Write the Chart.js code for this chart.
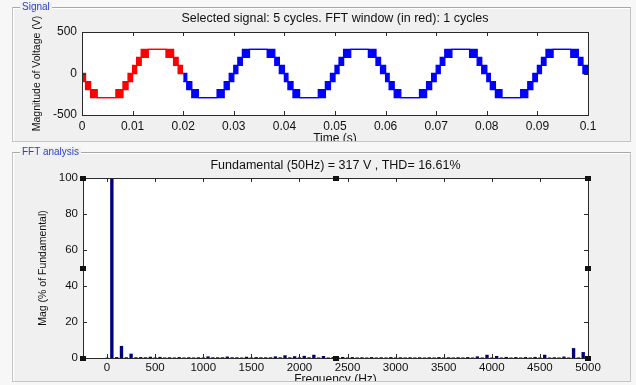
<!DOCTYPE html>
<html>
<head>
<meta charset="utf-8">
<script src="https://cdn.jsdelivr.net/npm/chart.js@4.4.1/dist/chart.umd.min.js"></script>
<style>
html, body { margin: 0; padding: 0; }
body { width: 636px; height: 385px; overflow: hidden; background: #f7f7f7; position: relative; font-family: "Liberation Sans", Arial, sans-serif; }
.group { position: absolute; left: 12px; width: 619px; box-sizing: border-box; border: 1px solid #c4c4c4; border-top-color: #a8a8a8; background: #f0f0f0; box-shadow: inset 1px 1px 0 #ffffff; }
#sigGroup { top: 7px; height: 135px; }
#fftGroup { top: 152px; height: 230px; }
.clip { position: absolute; left: 0; width: 636px; overflow: hidden; }
#sigClip { top: 0; height: 141px; }
#fftClip { top: 142px; height: 239px; }
.clip canvas { position: absolute; left: 0; }
.groupLabel { position: absolute; left: 20px; font-size: 10px; line-height: 10px; color: #2c3fcc; background: #f0f0f0; padding: 0 2px; }
</style>
</head>
<body>
<div class="group" id="sigGroup"></div>
<div class="group" id="fftGroup"></div>
<div class="clip" id="sigClip"><canvas id="signalChart" width="636" height="150" style="top:0"></canvas></div>
<div class="clip" id="fftClip"><canvas id="fftChart" width="636" height="240" style="top:8px"></canvas></div>
<div class="groupLabel" style="top:2px">Signal</div>
<div class="groupLabel" style="top:147px">FFT analysis</div>

<script>
// Signal data (one cycle of the staircase, repeated every 20 ms)

const cycleStarts = [0, 0.02, 0.04, 0.06, 0.08];
const redCycles = [0];
const blueCycles = [1, 2, 3, 4];

// start time of each step inside a cycle (last one closes the cycle)
const stepTimes = [0, 0.0007, 0.0017, 0.0030, 0.0067, 0.0081, 0.0091, 0.0100, 0.0108, 0.0117, 0.0131, 0.0166, 0.0181, 0.0190, 0.0200];
// lower and upper level of each step (equal when flat, different when switching)
const stepLow  = [-97, -194, -291, -291, -291, -194, -97, 0, 97, 194, 291, 194, 97, 0];
const stepHigh = [0, -97, -194, -291, -194, -97, 0, 97, 194, 291, 291, 291, 194, 97];

const timeTicks = [0, 0.01, 0.02, 0.03, 0.04, 0.05, 0.06, 0.07, 0.08, 0.09, 0.1];
const voltTicks = [-500, 0, 500];

// FFT data: harmonic frequency (Hz) and magnitude (% of fundamental)

const harmonicFreqs = [
	0, 50, 100, 150, 200, 250, 300, 350, 400, 450, 500, 550, 600, 650, 700, 750, 800, 850, 900, 950,
	1000, 1050, 1100, 1150, 1200, 1250, 1300, 1350, 1400, 1450, 1500, 1550, 1600, 1650, 1700, 1750, 1800, 1850, 1900, 1950,
	2000, 2050, 2100, 2150, 2200, 2250, 2300, 2350, 2400, 2450, 2500, 2550, 2600, 2650, 2700, 2750, 2800, 2850, 2900, 2950,
	3000, 3050, 3100, 3150, 3200, 3250, 3300, 3350, 3400, 3450, 3500, 3550, 3600, 3650, 3700, 3750, 3800, 3850, 3900, 3950,
	4000, 4050, 4100, 4150, 4200, 4250, 4300, 4350, 4400, 4450, 4500, 4550, 4600, 4650, 4700, 4750, 4800, 4850, 4900, 4950,
	5000
];
const harmonicMags = [
	0.2, 100, 0.5, 6.7, 0.4, 2.4, 0.4, 0.5, 0.4, 0.7, 0.3, 0.6, 0.3, 0.4, 0.3, 0.5, 0.3, 0.4, 0.3, 0.4,
	0.3, 0.9, 0.4, 0.4, 0.4, 0.8, 0.4, 0.4, 0.3, 0.7, 0.3, 0.5, 0.4, 0.4, 0.4, 0.9, 0.4, 1.5, 0.4, 1.0,
	0.4, 1.2, 0.4, 1.8, 0.3, 1.1, 0.3, 0.5, 0.3, 0.6, 0.3, 0.5, 0.3, 0.4, 0.3, 0.5, 0.3, 0.4, 0.3, 0.5,
	0.3, 0.4, 0.3, 0.4, 0.3, 0.4, 0.3, 0.4, 0.3, 0.5, 0.3, 0.4, 0.3, 0.4, 0.3, 0.5, 0.3, 0.9, 0.3, 1.8,
	0.3, 1.1, 0.3, 0.6, 0.3, 0.5, 0.3, 0.5, 0.3, 0.6, 0.3, 1.8, 0.3, 0.4, 0.3, 0.8, 0.3, 5.5, 0.3, 3.3,
	0.3
];
const freqTicks = [0, 500, 1000, 1500, 2000, 2500, 3000, 3500, 4000, 4500, 5000];
const magTicks = [0, 20, 40, 60, 80, 100];


const FONT = '"Liberation Sans", Arial, sans-serif';

// turn the step table into an envelope line for the given cycles
function envelope(cycles, levels){
	let pts = [];
	cycles.forEach(c => {
		for (let i = 0; i < levels.length; i++) {
			pts.push({ x: cycleStarts[c] + stepTimes[i], y: levels[i] });
			pts.push({ x: cycleStarts[c] + stepTimes[i + 1], y: levels[i] });
		}
	});
	return pts;
}

// white plot area, box frame, inward tick marks and selection handles (MATLAB look)
const matlabAxes = {
	id: 'matlabAxes',
	beforeDatasetsDraw(chart){
		const a = chart.chartArea, ctx = chart.ctx;
		ctx.save();
		ctx.fillStyle = '#ffffff';
		ctx.fillRect(a.left, a.top, a.right - a.left, a.bottom - a.top);
		ctx.restore();
	},
	afterDatasetsDraw(chart, args, opts){
		const a = chart.chartArea, ctx = chart.ctx;
		const x = chart.scales.x, y = chart.scales.y;
		const len = 4;
		ctx.save();
		ctx.strokeStyle = '#2a2a2a';
		ctx.lineWidth = 1;
		ctx.beginPath();
		x.ticks.forEach(t => {
			const px = Math.round(x.getPixelForValue(t.value)) + 0.5;
			ctx.moveTo(px, a.bottom); ctx.lineTo(px, a.bottom - len);
			ctx.moveTo(px, a.top); ctx.lineTo(px, a.top + len);
		});
		y.ticks.forEach(t => {
			const py = Math.round(y.getPixelForValue(t.value)) + 0.5;
			ctx.moveTo(a.left, py); ctx.lineTo(a.left + len, py);
			ctx.moveTo(a.right, py); ctx.lineTo(a.right - len, py);
		});
		ctx.stroke();
		ctx.strokeRect(Math.round(a.left) + 0.5, Math.round(a.top) + 0.5, Math.round(a.right - a.left), Math.round(a.bottom - a.top));

		if (opts.handles) {
			const cx = (a.left + a.right) / 2, cy = (a.top + a.bottom) / 2;
			const spots = [[a.left, a.top], [cx, a.top], [a.right, a.top], [a.left, cy], [a.right, cy], [a.left, a.bottom], [cx, a.bottom], [a.right, a.bottom]];
			ctx.fillStyle = '#111111';
			spots.forEach(s => {
				ctx.fillRect(Math.round(s[0]) - 3, Math.round(s[1]) - 2, 6, 5);
			});
		}
		ctx.restore();
	}
};


// Signal chart

new Chart(document.getElementById('signalChart'), {
	type: 'line',
	data: {
		datasets: [
			{ data: envelope(redCycles, stepHigh), borderColor: '#ff0000', borderWidth: 1.3, pointRadius: 0, fill: false },
			{ data: envelope(redCycles, stepLow), borderColor: '#ff0000', borderWidth: 1.3, pointRadius: 0, fill: '-1', backgroundColor: '#ff0000' },
			{ data: envelope(blueCycles, stepHigh), borderColor: '#0000ff', borderWidth: 1.3, pointRadius: 0, fill: false },
			{ data: envelope(blueCycles, stepLow), borderColor: '#0000ff', borderWidth: 1.3, pointRadius: 0, fill: '-1', backgroundColor: '#0000ff' }
		]
	},
	options: {
		responsive: false,
		animation: false,
		layout: { padding: { left: 31, right: 48, top: 0, bottom: 4 } },
		plugins: {
			legend: { display: false },
			tooltip: { enabled: false },
			title: {
				display: true,
				text: 'Selected signal: 5 cycles. FFT window (in red): 1 cycles',
				fullSize: false,
				color: '#111',
				font: { family: FONT, size: 12.5, weight: 'normal' },
				padding: { top: 11.5, bottom: 5.5 }
			},
			matlabAxes: { handles: false }
		},
		scales: {
			x: {
				type: 'linear', min: 0, max: 0.1,
				grid: { display: false, drawTicks: false }, border: { display: false },
				afterBuildTicks: s => { s.ticks = timeTicks.map(v => ({ value: v })); },
				afterFit: s => { s.height = 31; },
				ticks: { color: '#111', padding: 4, maxRotation: 0, font: { family: FONT, size: 12 }, callback: v => String(+v.toFixed(2)) },
				title: { display: true, text: 'Time (s)', color: '#111', padding: 0, font: { family: FONT, size: 12 } }
			},
			y: {
				type: 'linear', min: -500, max: 500,
				grid: { display: false, drawTicks: false }, border: { display: false },
				afterBuildTicks: s => { s.ticks = voltTicks.map(v => ({ value: v })); },
				afterFit: s => { s.width = 51; },
				ticks: { color: '#111', padding: 5, font: { family: FONT, size: 12 } },
				title: { display: true, text: 'Magnitude of Voltage (V)', color: '#111', padding: 0, font: { family: FONT, size: 10.5 } }
			}
		}
	},
	plugins: [matlabAxes]
});


// FFT chart

new Chart(document.getElementById('fftChart'), {
	type: 'bar',
	data: {
		datasets: [{
			data: harmonicFreqs.map((f, i) => ({ x: f, y: harmonicMags[i] })),
			backgroundColor: '#000080',
			borderWidth: 0,
			barPercentage: 0.7,
			categoryPercentage: 1
		}]
	},
	options: {
		responsive: false,
		animation: false,
		layout: { padding: { left: 37, right: 48, top: 0, bottom: 3 } },
		plugins: {
			legend: { display: false },
			tooltip: { enabled: false },
			title: {
				display: true,
				text: 'Fundamental (50Hz) = 317 V , THD= 16.61%',
				fullSize: false,
				color: '#111',
				font: { family: FONT, size: 12.5, weight: 'normal' },
				padding: { top: 8.5, bottom: 4.5 }
			},
			matlabAxes: { handles: true }
		},
		scales: {
			x: {
				type: 'linear', min: -250, max: 5000, offset: false,
				grid: { display: false, drawTicks: false }, border: { display: false },
				afterBuildTicks: s => { s.ticks = freqTicks.map(v => ({ value: v })); },
				afterFit: s => { s.height = 29; },
				ticks: { color: '#111', padding: 3, maxRotation: 0, font: { family: FONT, size: 11.5 }, callback: v => String(v) },
				title: { display: true, text: 'Frequency (Hz)', color: '#111', padding: 0, font: { family: FONT, size: 12 } }
			},
			y: {
				type: 'linear', min: 0, max: 100,
				grid: { display: false, drawTicks: false }, border: { display: false },
				afterBuildTicks: s => { s.ticks = magTicks.map(v => ({ value: v })); },
				afterFit: s => { s.width = 46; },
				ticks: { color: '#111', padding: 5, font: { family: FONT, size: 11.5 } },
				title: { display: true, text: 'Mag (% of Fundamental)', color: '#111', padding: 0, font: { family: FONT, size: 10.5 } }
			}
		}
	},
	plugins: [matlabAxes]
});
</script>
</body>
</html>
